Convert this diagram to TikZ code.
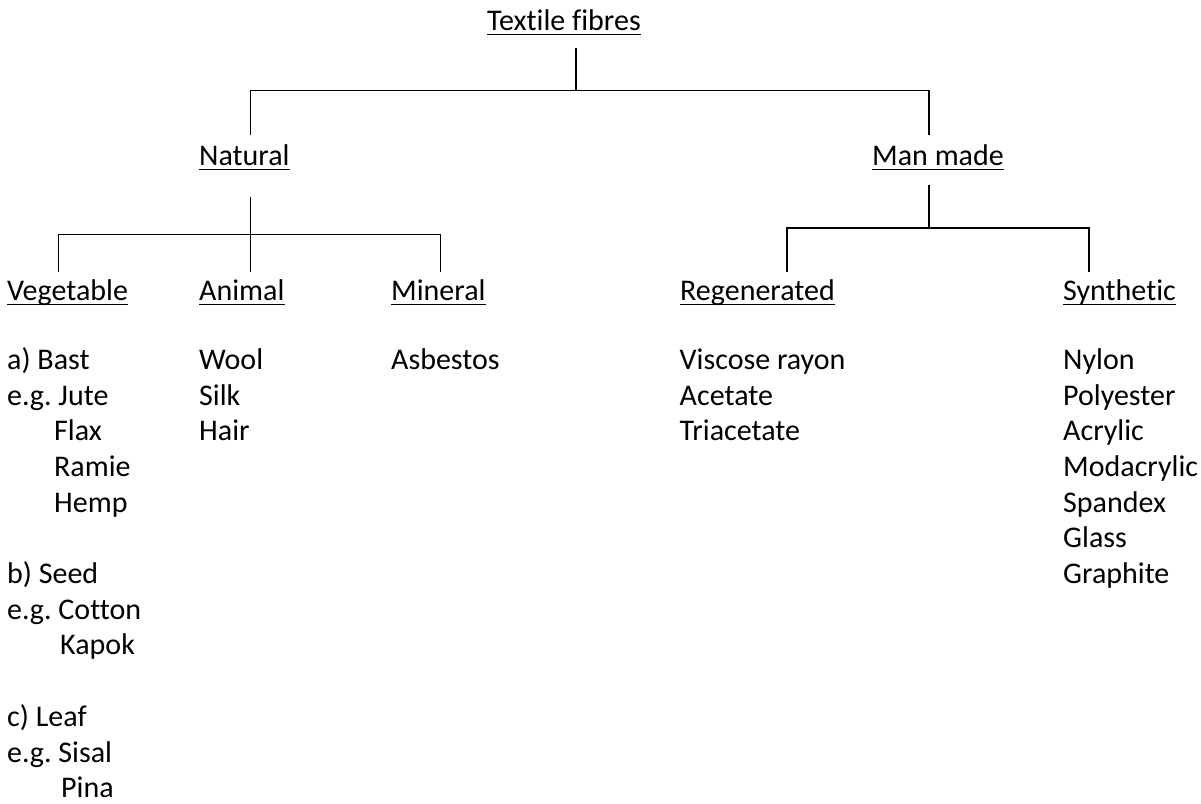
\documentclass[tikz,border=0pt]{standalone}
\usepackage{fontspec}
\setmainfont{Carlito}[Ligatures=NoCommon]
\usetikzlibrary{calc}
\frenchspacing

\begin{document}
\begin{tikzpicture}[
  x=1pt, y=-1pt,
  heading/.style={anchor=base west, inner sep=0pt, font=\fontsize{30}{35.7}\selectfont},
  item/.style={anchor=base west, inner sep=0pt, font=\fontsize{30}{35.7}\selectfont},
  link/.style={draw=black, line width=1.4pt},
  uline/.style={draw=black, line width=1.3pt}
]
\useasboundingbox (0,0) rectangle (1201,803);

% headings
\node[heading] (title)       at (487,30)   {Textile fibres};
\node[heading] (natural)     at (199,165)  {Natural};
\node[heading] (manmade)     at (872,165)  {Man made};
\node[heading] (vegetable)   at (7,300)    {Vegetable};
\node[heading] (animal)      at (199,300)  {Animal};
\node[heading] (mineral)     at (391,300)  {Mineral};
\node[heading] (regenerated) at (680,300)  {Regenerated};
\node[heading] (synthetic)   at (1063,300) {Synthetic};

\foreach \n in {title,natural,manmade,vegetable,animal,mineral,regenerated,synthetic}
  \draw[uline] ([yshift=-4.5pt]\n.base west) -- ([yshift=-4.5pt]\n.base east);

% branch points
\coordinate (root-s) at (576,48);
\coordinate (root-j) at (576,90.7);
\coordinate (nat-n)  at (250.7,135);
\coordinate (man-n)  at (929,135);
\coordinate (nat-s)  at (250.7,197);
\coordinate (nat-j)  at (250.7,234.5);
\coordinate (veg-n)  at (58.7,271.7);
\coordinate (ani-n)  at (250.7,271.7);
\coordinate (min-n)  at (440.7,271.7);
\coordinate (man-s)  at (929,185);
\coordinate (man-j)  at (929,228);
\coordinate (reg-n)  at (787,271.7);
\coordinate (syn-n)  at (1089,271.7);

\draw[link] (root-s) -- (root-j);
\draw[link] (nat-n) -- (nat-n |- root-j) -| (man-n);
\draw[link] (nat-s) -- (ani-n);
\draw[link] (veg-n) -- (veg-n |- nat-j) -| (min-n);
\draw[link] (man-s) -- (man-j);
\draw[link] (reg-n) -- (reg-n |- man-j) -| (syn-n);

% lists
\foreach \r/\dx/\t in {0/0/a) Bast, 1/0/e.g. Jute, 2/47/Flax, 3/47/Ramie, 4/47/Hemp,
    6/0/b) Seed, 7/0/e.g. Cotton, 8/53/Kapok, 10/0/c) Leaf, 11/0/e.g. Sisal, 12/54/Pina}
  \node[item] (veg\r) at ({7+\dx},{369.3+35.7*\r}) {\t};
\foreach \t [count=\r from 0] in {Wool, Silk, Hair}
  \node[item] (ani\r) at (199,{369.3+35.7*\r}) {\t};
\node[item] (min0) at (391,369.3) {Asbestos};
\foreach \t [count=\r from 0] in {Viscose rayon, Acetate, Triacetate}
  \node[item] (reg\r) at (679.5,{369.3+35.7*\r}) {\t};
\foreach \t [count=\r from 0] in {Nylon, Polyester, Acrylic, Modacrylic, Spandex, Glass, Graphite}
  \node[item] (syn\r) at (1063,{369.3+35.7*\r}) {\t};

\end{tikzpicture}
\end{document}
